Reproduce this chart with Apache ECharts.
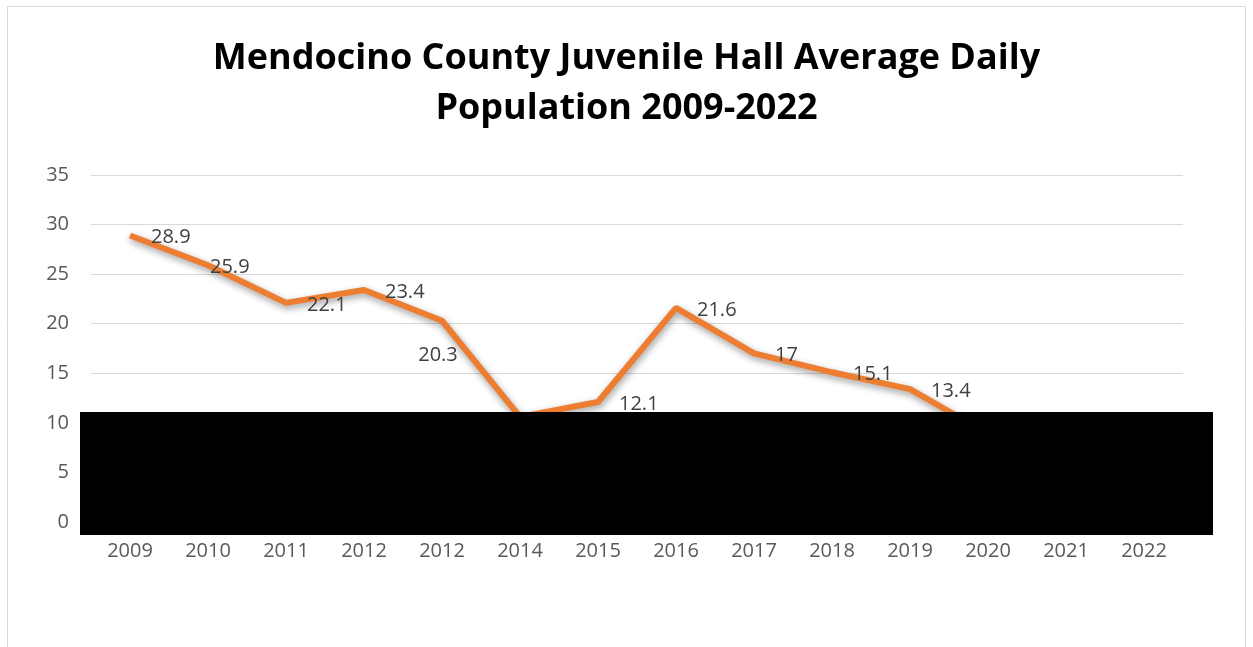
<!DOCTYPE html>
<html><head><meta charset="utf-8">
<script src="https://cdn.jsdelivr.net/npm/echarts@6/dist/echarts.min.js"></script>
<style>html,body{margin:0;padding:0;background:#fff}#c{width:1253px;height:647px}</style>
</head><body><div id="c"></div>
<script>
var categories = ['2009','2010','2011','2012','2012','2014','2015','2016','2017','2018','2019','2020','2021','2022'];
var values = [28.9, 25.9, 22.1, 23.4, 20.3, 10.6, 12.1, 21.6, 17, 15.1, 13.4, 8.9, 7.6, 8.4];
var yTicks = [0, 5, 10, 15, 20, 25, 30, 35];
var titleText = 'Mendocino County Juvenile Hall Average Daily\nPopulation 2009-2022';

var FONT = '"Open Sans", sans-serif';
var labelOverrides = {
  1: { distance: 1 },
  4: { position: 'bottom', distance: 24, offset: [-4, 0] },
  5: { offset: [0, 8], backgroundColor: '#fff', padding: [2, 4] }
};
var seriesData = values.map(function (v, i) {
  var item = { value: v };
  if (labelOverrides[i]) item.label = labelOverrides[i];
  return item;
});

var chart = echarts.init(document.getElementById('c'), null, { renderer: 'canvas' });
chart.setOption({
  animation: false,
  backgroundColor: '#fff',
  title: {
    text: titleText,
    left: 'center',
    top: 34,
    padding: 0,
    textStyle: { fontFamily: FONT, fontWeight: 'bold', fontSize: 36, lineHeight: 50, color: '#000' }
  },
  grid: { left: 91, right: 70, top: 175, bottom: 125, containLabel: false },
  xAxis: {
    type: 'category',
    data: categories,
    boundaryGap: true,
    axisLine: { show: true, lineStyle: { color: '#d9d9d9', width: 1 } },
    axisTick: { show: false },
    axisLabel: { fontFamily: FONT, fontSize: 20, color: '#595959', margin: 19 }
  },
  yAxis: {
    type: 'value',
    min: yTicks[0],
    max: yTicks[yTicks.length - 1],
    interval: 5,
    axisLine: { show: false },
    axisTick: { show: false },
    splitLine: { lineStyle: { color: '#d9d9d9', width: 1 } },
    axisLabel: { fontFamily: FONT, fontSize: 20, color: '#595959', margin: 22 }
  },
  series: [{
    type: 'line',
    data: seriesData,
    symbol: 'circle',
    symbolSize: 2,
    showSymbol: true,
    itemStyle: { color: 'rgba(237,125,49,0)', borderWidth: 0 },
    lineStyle: { color: '#ED7D31', width: 6, shadowColor: 'rgba(0,0,0,0.4)', shadowBlur: 7, shadowOffsetX: 1, shadowOffsetY: 3 },
    label: { show: true, position: 'right', distance: 20, offset: [0, 2], fontFamily: FONT, fontSize: 20, color: '#404040' },
    labelLine: { show: false },
    z: 3
  }],
  graphic: [
    { type: 'rect', shape: { x: 7.5, y: 6.5, width: 1238, height: 700 }, style: { fill: 'none', stroke: '#d9d9d9', lineWidth: 1 }, z: 0, silent: true },
    { type: 'rect', shape: { x: 80, y: 412, width: 1133, height: 123 }, style: { fill: '#000' }, z: 100, silent: true }
  ]
});
</script></body></html>
